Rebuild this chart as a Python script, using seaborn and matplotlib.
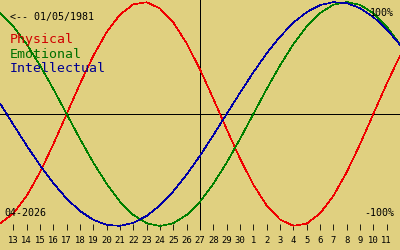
import matplotlib
matplotlib.use("Agg")
import matplotlib.pyplot as plt
import seaborn as sns
import pandas as pd

# ---- data ----
day_labels = ["12", "13", "14", "15", "16", "17", "18", "19", "20", "21", "22",
              "23", "24", "25", "26", "27", "28", "29", "30", "1", "2", "3",
              "4", "5", "6", "7", "8", "9", "10", "11", "12"]
physical = [-0.979, -0.888, -0.731, -0.520, -0.270, 0.000, 0.270, 0.520, 0.731,
            0.888, 0.979, 0.998, 0.942, 0.817, 0.631, 0.398, 0.136, -0.136,
            -0.398, -0.631, -0.817, -0.942, -0.998, -0.979, -0.888, -0.731,
            -0.520, -0.270, 0.000, 0.270, 0.520]
emotional = [0.901, 0.782, 0.623, 0.434, 0.223, 0.000, -0.223, -0.434, -0.623,
             -0.782, -0.901, -0.975, -1.000, -0.975, -0.901, -0.782, -0.623,
             -0.434, -0.223, 0.000, 0.223, 0.434, 0.623, 0.782, 0.901, 0.975,
             1.000, 0.975, 0.901, 0.782, 0.623]
intellectual = [0.095, -0.095, -0.282, -0.458, -0.618, -0.756, -0.866, -0.945,
                -0.990, -0.999, -0.972, -0.910, -0.815, -0.690, -0.541, -0.372,
                -0.189, 0.000, 0.189, 0.372, 0.541, 0.690, 0.815, 0.910, 0.972,
                0.999, 0.990, 0.945, 0.866, 0.756, 0.618]
today_index = 15
birth_text = "<-- 01/05/1981"
month_text = "04-2026"
series_names = ["Physical", "Emotional", "Intellectual"]
line_colors = ["#f00000", "#008000", "#0000a8"]
text_colors = ["#d00000", "#007000", "#000090"]

BG = "#e0d080"
W, H = 400, 250
DPI = 100

sns.set_theme(style="white")
plt.rcParams["font.family"] = ["DejaVu Sans Mono", "DejaVu Sans"]

fig = plt.figure(figsize=(W / DPI, H / DPI), dpi=DPI, facecolor=BG)
ax_bottom_px = 230
ax = fig.add_axes([0, 1 - ax_bottom_px / H, 1, ax_bottom_px / H])
ax.set_facecolor(BG)

idx = list(range(len(day_labels)))
df = pd.DataFrame({"idx": idx * 3,
                   "value": physical + emotional + intellectual,
                   "series": [s for s in series_names for _ in idx]})

LW = 0.6
CURVE_LW = 0.45
# horizontal / vertical reference lines
ax.axhline(0, color="black", lw=LW, antialiased=False, zorder=1)
ax.axvline(today_index, color="black", lw=LW, antialiased=False, zorder=1)
n_ref = len(ax.lines)

sns.lineplot(data=df, x="idx", y="value", hue="series", hue_order=series_names,
             palette=line_colors, linewidth=CURVE_LW, legend=False, ax=ax,
             sort=False, zorder=2)
for ln in ax.lines[n_ref:]:
    ln.set_linewidth(CURVE_LW)
    ln.set_antialiased(False)

zero_px = 114
px_per_unit = 112
ax.set_xlim(0, len(day_labels) - 1)
ax.set_ylim(-(ax_bottom_px - zero_px) / px_per_unit, zero_px / px_per_unit)
for s in ax.spines.values():
    s.set_visible(False)

tick_pos = idx[1:-1]
ax.set_xticks(tick_pos)
ax.set_xticklabels(day_labels[1:-1], fontsize=6.4, color="black")
ax.tick_params(axis="x", direction="in", length=4.5, width=LW, color="black",
               pad=4, bottom=True)
ax.set_yticks([])
ax.set_xlabel("")
ax.set_ylabel("")

def ftext(x, y, s, **kw):
    fig.text(x / W, 1 - y / H, s, **kw)

ftext(10, 17, birth_text, fontsize=7.2, color="black", va="center", ha="left")
for i, (name, c) in enumerate(zip(series_names, text_colors)):
    ftext(10, 39 + i * 15, name, fontsize=9.5, color=c, va="center", ha="left")
ftext(394, 12.5, "100%", fontsize=7.2, color="black", va="center", ha="right")
ftext(394, 213, "-100%", fontsize=7.2, color="black", va="center", ha="right")
ftext(4, 213, month_text, fontsize=7.2, color="black", va="center", ha="left")

fig.savefig("out.png", dpi=DPI, facecolor=BG)
